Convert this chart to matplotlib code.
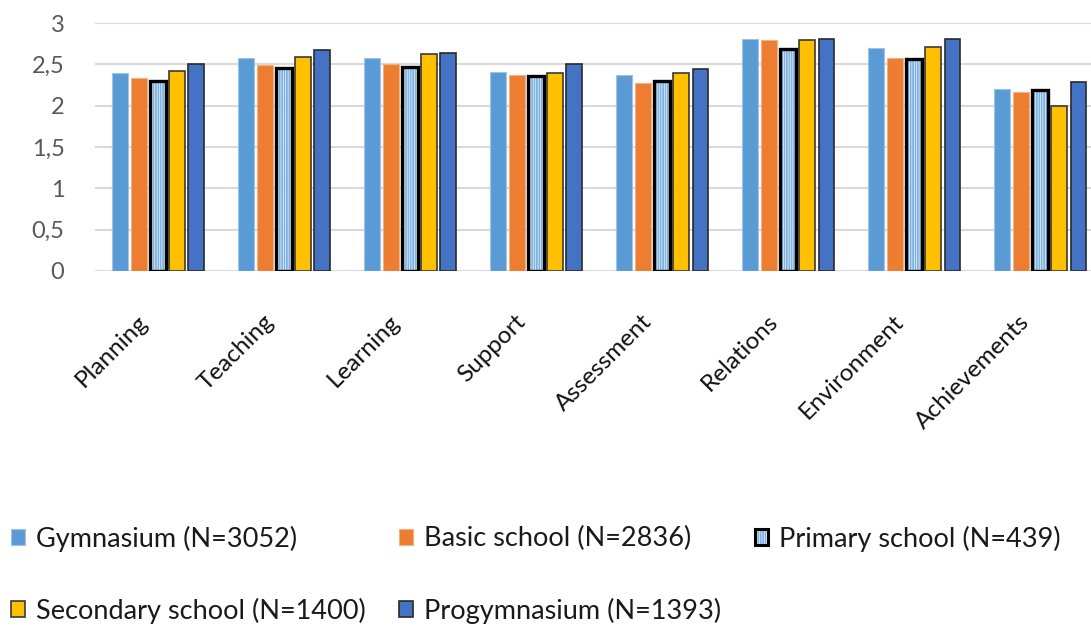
import numpy as np
import matplotlib
matplotlib.use("Agg")
import matplotlib.pyplot as plt
from matplotlib.patches import Patch
from matplotlib.legend_handler import HandlerTuple
from matplotlib.transforms import ScaledTranslation

# domains of the school evaluation
categories = ["Planning", "Teaching", "Learning", "Support", "Assessment",
              "Relations", "Environment", "Achievements"]

# mean scores per school type
gymnasium = [2.39, 2.58, 2.58, 2.41, 2.37, 2.81, 2.70, 2.20]
basic_school = [2.33, 2.49, 2.51, 2.37, 2.28, 2.80, 2.58, 2.16]
primary_school = [2.30, 2.45, 2.47, 2.36, 2.30, 2.68, 2.56, 2.19]
secondary_school = [2.42, 2.59, 2.62, 2.40, 2.39, 2.79, 2.71, 2.00]
progymnasium = [2.50, 2.67, 2.64, 2.50, 2.44, 2.81, 2.81, 2.29]

series_labels = ["Gymnasium (N=3052)", "Basic school (N=2836)",
                 "Primary school (N=439)", "Secondary school (N=1400)",
                 "Progymnasium (N=1393)"]

y_ticks = [0, 0.5, 1, 1.5, 2, 2.5, 3]
y_tick_labels = ["0", "0,5", "1", "1,5", "2", "2,5", "3"]

plt.rcParams['font.family'] = ['Lato', 'DejaVu Sans']
plt.rcParams['hatch.linewidth'] = 1.3

fig = plt.figure(figsize=(10.91, 6.27), dpi=100)
ax = fig.add_axes([0.0871, 0.5678, 0.924, 0.3955])

x = np.arange(len(categories))
step = 0.152
w = 0.125

ax.bar(x - 2 * step, gymnasium, w, color="#5B9BD5", edgecolor="#9DC3E6", linewidth=0.8, zorder=3)
ax.bar(x - step, basic_school, w, color="#ED7D31", edgecolor="#F4B183", linewidth=0.8, zorder=3)
# primary school: striped fill with a heavy black outline
ax.bar(x, primary_school, w, color="white", edgecolor="#7FB2E0", hatch="|" * 7, linewidth=0, zorder=3)
ax.bar(x, primary_school, w, color="none", edgecolor="black", linewidth=2.4, zorder=4)
ax.bar(x + step, secondary_school, w, color="#FFC000", edgecolor="#3A3A3A", linewidth=1.2, zorder=3)
ax.bar(x + 2 * step, progymnasium, w, color="#4472C4", edgecolor="#2A2A2A", linewidth=1.2, zorder=3)

ax.set_xlim(-0.5, len(categories) - 0.5)
ax.set_ylim(0, 3)
ax.set_yticks(y_ticks)
ax.set_yticklabels(y_tick_labels, fontsize=17, color="#595959")
ax.yaxis.grid(True, color="#D9D9D9", linewidth=1.5, zorder=0)
ax.set_axisbelow(True)
for s in ax.spines.values():
    s.set_visible(False)
ax.tick_params(axis="both", length=0)
ax.tick_params(axis="y", pad=22)

ax.set_xticks(x)
ax.set_xticklabels(categories, rotation=45, ha="right", va="center",
                   rotation_mode="anchor", fontsize=17.5, color="#111111")
ax.tick_params(axis="x", pad=34)
shift = ScaledTranslation(-10 / 72, 0, fig.dpi_scale_trans)
for lbl in ax.get_xticklabels():
    lbl.set_transform(lbl.get_transform() + shift)

# legend handles
h1 = Patch(facecolor="#5B9BD5", edgecolor="#9DC3E6", linewidth=0.8)
h2 = Patch(facecolor="#ED7D31", edgecolor="#F4B183", linewidth=0.8)
h3 = (Patch(facecolor="white", edgecolor="#7FB2E0", hatch="|" * 7, linewidth=0),
      Patch(facecolor="none", edgecolor="black", linewidth=2.2))
h4 = Patch(facecolor="#FFC000", edgecolor="#3A3A3A", linewidth=1.2)
h5 = Patch(facecolor="#4472C4", edgecolor="#2A2A2A", linewidth=1.2)

# column-first order so rows read left to right
handles = [h1, h4, h2, h5, h3]
labels = [series_labels[0], series_labels[3], series_labels[1],
          series_labels[4], series_labels[2]]
fig.legend(handles, labels, ncol=3, loc="upper left", bbox_to_anchor=(0.003, 0.175),
           frameon=False, fontsize=19.5, labelcolor="#1A1A1A",
           handlelength=0.5, handleheight=0.5, handletextpad=0.4,
           columnspacing=1.25, labelspacing=1.7, borderaxespad=0, borderpad=0.3,
           handler_map={tuple: HandlerTuple(ndivide=1)})

fig.savefig("out.png", dpi=100)
